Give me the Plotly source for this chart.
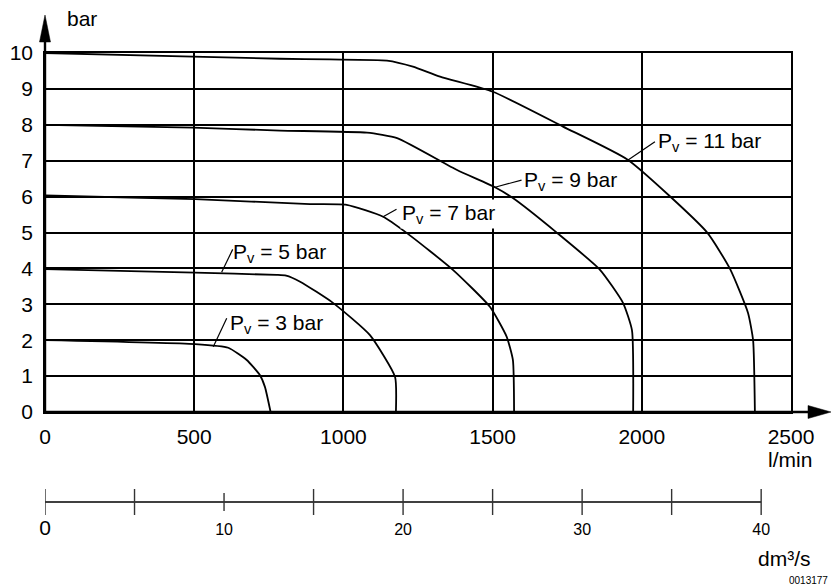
import plotly.graph_objects as go

# ---------------- data ----------------
# flow in l/min, pressure in bar, one curve per supply pressure Pv
q_pv3 = [0, 503, 614, 676, 720, 737, 756]
p_pv3 = [2.00, 1.89, 1.79, 1.45, 1.03, 0.70, 0.0]

q_pv5 = [0, 503, 776, 808, 855, 965, 1089, 1173, 1176]
p_pv5 = [3.98, 3.88, 3.82, 3.80, 3.63, 3.04, 2.14, 0.98, 0.0]

q_pv7 = [0, 503, 888, 1011, 1133, 1212, 1367, 1491, 1547, 1568, 1572]
p_pv7 = [6.03, 5.93, 5.79, 5.77, 5.44, 4.99, 3.96, 2.93, 2.10, 1.45, 0.0]

q_pv9 = [0, 496, 787, 1079, 1180, 1381, 1508, 1568, 1716, 1860, 1937, 1967, 1971]
p_pv9 = [8.0, 7.92, 7.84, 7.78, 7.63, 6.74, 6.26, 5.96, 4.99, 3.96, 3.04, 2.28, 0.0]

q_pv11 = [0, 496, 787, 955, 1146, 1233, 1324, 1501, 1736, 1954, 2218, 2296, 2356, 2373, 2379]
p_pv11 = [10.0, 9.90, 9.84, 9.82, 9.79, 9.62, 9.34, 8.92, 7.95, 7.02, 5.01, 3.98, 2.76, 2.0, 0.0]

pv_names = ["3", "5", "7", "9", "11"]

x_ticks = [0, 500, 1000, 1500, 2000, 2500]          # l/min
y_ticks = [0, 1, 2, 3, 4, 5, 6, 7, 8, 9, 10]        # bar
dm3_ticks = [0, 5, 10, 15, 20, 25, 30, 35, 40]      # dm³/s tick marks
dm3_labels = [0, 10, 20, 30, 40]                    # labelled dm³/s ticks
LMIN_PER_DM3S = 60.0

# label anchor (curve point, label start) in data units
lead_from = [(564, 1.82), (592, 3.89), (1133, 5.44), (1508, 6.26), (1954, 7.02)]
lead_to = [(609, 2.61), (629, 4.53), (1178, 5.65), (1597, 6.46), (2044, 7.53)]
text_at = [(612, 2.46), (622, 4.43), (1190, 5.52), (1599, 6.43), (2047, 7.52)]

# ---------------- layout geometry ----------------
W, H = 832, 588
ML, MR, MT, MB = 45, 41, 53, 73
PW, PH = W - ML - MR, H - MT - MB
Y0_PX = 412          # pixel row of 0 bar
AX2_TOP, AX2_BOT = 489, 515


def fx(px):
    return (px - ML) / PW


def fy(py):
    return (H - MB - py) / PH


FONT = "Liberation Sans, Arial, sans-serif"

fig = go.Figure()

curves = [(q_pv3, p_pv3), (q_pv5, p_pv5), (q_pv7, p_pv7), (q_pv9, p_pv9), (q_pv11, p_pv11)]
for (q, p), name in zip(curves, pv_names):
    fig.add_trace(go.Scatter(x=q, y=p, mode="lines", name=f"Pv = {name} bar",
                             line=dict(color="black", width=1.8, shape="spline", smoothing=0.5),
                             xaxis="x", yaxis="y", showlegend=False,
                             hoverinfo="skip"))

# secondary dm³/s scale
fig.add_trace(go.Scatter(x=[dm3_ticks[0], dm3_ticks[-1]], y=[0, 0], mode="lines",
                         line=dict(color="black", width=1.4),
                         xaxis="x2", yaxis="y2", showlegend=False, hoverinfo="skip"))
tx, ty = [], []
for v in dm3_ticks:
    h = 0.7 if v == 10 else 1.0
    tx += [v, v, None]
    ty += [-h, h, None]
fig.add_trace(go.Scatter(x=tx, y=ty, mode="lines",
                         line=dict(color="#333333", width=1.4),
                         xaxis="x2", yaxis="y2", showlegend=False, hoverinfo="skip"))

ydom0 = fy(Y0_PX)
ydom2 = fy(AX2_TOP)

shapes = []
# leader lines
for (x0, y0), (x1, y1) in zip(lead_from, lead_to):
    shapes.append(dict(type="line", xref="x", yref="y", x0=x0, y0=y0, x1=x1, y1=y1,
                       line=dict(color="black", width=1.2)))
# thick axis lines with arrows
shapes.append(dict(type="line", xref="paper", yref="paper",
                   x0=fx(45), y0=fy(Y0_PX), x1=fx(812), y1=fy(Y0_PX),
                   line=dict(color="black", width=2.4)))
shapes.append(dict(type="line", xref="paper", yref="paper",
                   x0=fx(45), y0=fy(Y0_PX), x1=fx(45), y1=fy(38),
                   line=dict(color="black", width=2.4)))
shapes.append(dict(type="path", xref="paper", yref="paper",
                   path=f"M {fx(831)},{fy(Y0_PX)} L {fx(808)},{fy(Y0_PX - 6.5)} "
                        f"L {fx(808)},{fy(Y0_PX + 6.5)} Z",
                   fillcolor="black", line=dict(color="black", width=0.5)))
shapes.append(dict(type="path", xref="paper", yref="paper",
                   path=f"M {fx(45)},{fy(15)} L {fx(39.5)},{fy(42)} "
                        f"L {fx(50.5)},{fy(42)} Z",
                   fillcolor="black", line=dict(color="black", width=0.5)))

annotations = []
for (x, y), name in zip(text_at, pv_names):
    annotations.append(dict(x=x, y=y, xref="x", yref="y", xanchor="left", yanchor="middle",
                            text=f"P<sub>v</sub> = {name} bar", showarrow=False,
                            font=dict(family=FONT, size=21, color="black"),
                            bgcolor="white" if name == "7" else None,
                            borderpad=1))
annotations += [
    dict(x=fx(65), y=fy(18), xref="paper", yref="paper", xanchor="left", yanchor="middle",
         text="bar", showarrow=False, font=dict(family=FONT, size=21, color="black")),
    dict(x=fx(790), y=fy(459), xref="paper", yref="paper", xanchor="center", yanchor="middle",
         text="l/min", showarrow=False, font=dict(family=FONT, size=21, color="black")),
    dict(x=fx(813), y=fy(558), xref="paper", yref="paper", xanchor="right", yanchor="middle",
         text="dm³/s", showarrow=False, font=dict(family=FONT, size=21, color="black")),
    dict(x=fx(830), y=fy(580), xref="paper", yref="paper", xanchor="right", yanchor="middle",
         text="0013177", showarrow=False, font=dict(family=FONT, size=10, color="black")),
]

dm3_text = [f'<span style="font-size:21px">{v}</span>' if v == 0 else str(v) for v in dm3_labels]

fig.update_layout(
    width=W, height=H,
    margin=dict(l=ML, r=MR, t=MT, b=MB, pad=0, autoexpand=False),
    paper_bgcolor="white", plot_bgcolor="white",
    font=dict(family=FONT, color="black"),
    xaxis=dict(domain=[0, 1], range=[0, 2500], anchor="y", automargin=False,
               tickvals=x_ticks, ticktext=[str(v) for v in x_ticks],
               tickfont=dict(size=21), ticks="", ticklabelstandoff=5,
               showgrid=True, gridcolor="black", gridwidth=1.6,
               zeroline=False, showline=True, mirror=True,
               linecolor="black", linewidth=1.6),
    yaxis=dict(domain=[ydom0, 1], range=[0, 10], anchor="x", automargin=False,
               tickvals=y_ticks, ticktext=[str(v) for v in y_ticks],
               tickfont=dict(size=21), ticks="", ticklabelstandoff=6,
               showgrid=True, gridcolor="black", gridwidth=1.6,
               zeroline=False, showline=True, mirror=True,
               linecolor="black", linewidth=1.6),
    xaxis2=dict(domain=[0, 1], range=[0, 2500 / LMIN_PER_DM3S], anchor="y2", automargin=False,
                tickvals=dm3_labels, ticktext=dm3_text, tickfont=dict(size=16),
                ticks="", ticklabelstandoff=3,
                showgrid=False, zeroline=False, showline=False),
    yaxis2=dict(domain=[0, ydom2], range=[-1, 1], anchor="x2", visible=False),
    shapes=shapes,
    annotations=annotations,
    showlegend=False,
)

fig.write_html("out.html",
               config={"displayModeBar": False},
               post_script="document.body.style.margin='0';document.body.style.overflow='hidden';")
